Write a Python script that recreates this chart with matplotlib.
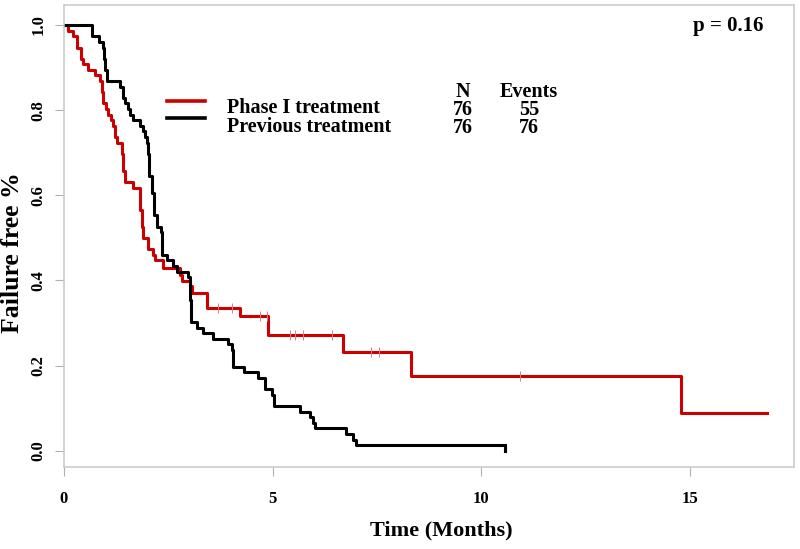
import matplotlib
matplotlib.use('Agg')
import matplotlib.pyplot as plt

# Kaplan-Meier steps (time in months, survival)
phase1_t = [0.00, 0.10, 0.22, 0.30, 0.41, 0.46, 0.58, 0.74, 0.86, 0.90, 0.94, 1.00,
            1.06, 1.12, 1.18, 1.22, 1.26, 1.38, 1.42, 1.46, 1.65, 1.82, 1.86, 1.90,
            2.02, 2.14, 2.18, 2.38, 2.78, 2.82, 3.02, 3.06, 3.42, 3.44, 4.22, 4.90,
            6.69, 8.31, 14.79, 16.85]
phase1_s = [1.000, 0.987, 0.974, 0.947, 0.921, 0.908, 0.895, 0.882, 0.868, 0.842, 0.816, 0.803,
            0.789, 0.776, 0.763, 0.737, 0.724, 0.697, 0.658, 0.632, 0.618, 0.566, 0.526, 0.500,
            0.474, 0.461, 0.447, 0.430, 0.414, 0.398, 0.386, 0.370, 0.350, 0.335, 0.317, 0.272,
            0.233, 0.176, 0.088, 0.088]
phase1_cens_t = [3.70, 4.02, 4.70, 4.86, 5.42, 5.54, 5.73, 6.43, 7.37, 7.56, 10.93]
phase1_cens_s = [0.335, 0.335, 0.317, 0.317, 0.272, 0.272, 0.272, 0.272, 0.233, 0.233, 0.176]

prev_t = [0.00, 0.66, 0.85, 0.93, 0.96, 0.98, 1.02, 1.34, 1.42, 1.46, 1.53, 1.58, 1.66,
          1.82, 1.90, 1.94, 1.98, 2.02, 2.04, 2.10, 2.16, 2.22, 2.32, 2.34, 2.46, 2.62,
          2.70, 2.98, 3.02, 3.04, 3.18, 3.34, 3.58, 3.94, 4.02, 4.04, 4.31, 4.66, 4.82,
          4.98, 5.03, 5.66, 5.90, 5.97, 6.01, 6.77, 6.93, 7.01, 10.57]
prev_s = [1.000, 0.974, 0.961, 0.947, 0.921, 0.895, 0.868, 0.855, 0.829, 0.816, 0.803, 0.789, 0.776,
          0.763, 0.750, 0.737, 0.724, 0.697, 0.645, 0.605, 0.553, 0.526, 0.513, 0.461, 0.447, 0.434,
          0.421, 0.408, 0.355, 0.303, 0.289, 0.276, 0.263, 0.250, 0.237, 0.197, 0.184, 0.171, 0.145,
          0.132, 0.105, 0.092, 0.079, 0.066, 0.053, 0.039, 0.026, 0.013, 0.000]

groups = ['Phase I treatment', 'Previous treatment']
n_pat = [76, 76]
n_events = [55, 76]
colors = ['#cc0000', 'black']

plt.rcParams['font.family'] = 'Liberation Serif'
plt.rcParams['font.weight'] = 'bold'

W, H = 800, 549
fig = plt.figure(figsize=(W / 100, H / 100), dpi=100)
ax = fig.add_axes([64 / W, 1 - 467 / H, (794 - 64) / W, (467 - 5) / H])


def fx(px):
    return px / W


def fy(py):
    return 1 - py / H


ax.step(phase1_t, phase1_s, where='post', color=colors[0], lw=2.2)
ax.plot(phase1_cens_t, phase1_cens_s, ls='none', marker='|', ms=7, mew=0.7,
        color='#d88080')
ax.step(prev_t, prev_s, where='post', color=colors[1], lw=2.2)
ax.plot([prev_t[-1], prev_t[-1]], [prev_s[-2], prev_s[-1]], color=colors[1], lw=2.2)

ax.set_xlim(0, 17.5)
ax.set_ylim(-0.038, 1.047)
ax.set_xticks([0, 5, 10, 15])
ax.set_yticks([0.0, 0.2, 0.4, 0.6, 0.8, 1.0])
ax.set_yticklabels(['0.0', '0.2', '0.4', '0.6', '0.8', '1.0'], rotation=90, va='center')
for sp in ax.spines.values():
    sp.set_color('#c8c8c8')
    sp.set_linewidth(1.1)
ax.tick_params(axis='both', direction='out', length=6.5, width=0.8, color='#b0b0b0',
               labelsize=12)
ax.tick_params(axis='x', pad=11)
ax.tick_params(axis='y', pad=6)

fig.text(fx(441), fy(530), 'Time (Months)', ha='center', va='center', fontsize=16,
         fontweight='bold')
fig.text(fx(13), fy(253), 'Failure free %', ha='center', va='center', fontsize=18.5,
         fontweight='bold', rotation=90)
fig.text(fx(728), fy(26), 'p = 0.16', ha='center', va='center', fontsize=15,
         fontweight='bold')

# legend block, each column as one multi-line text
for i in range(2):
    y = 100.5 + 17 * i
    fig.add_artist(plt.Line2D([fx(167), fx(205)], [fy(y), fy(y)],
                              color=colors[i], lw=2.6))
fs = 14.5
fig.text(fx(227), fy(117.5), '\n'.join(groups), ha='left', va='center',
         fontsize=fs, linespacing=0.9)
fig.text(fx(463), fy(110), '\n'.join(['N'] + [str(v) for v in n_pat]),
         ha='center', va='center', fontsize=fs, linespacing=0.88)
fig.text(fx(529), fy(110), '\n'.join(['Events'] + [str(v) for v in n_events]),
         ha='center', va='center', fontsize=fs, linespacing=0.88)

fig.savefig('out.png', dpi=100)
